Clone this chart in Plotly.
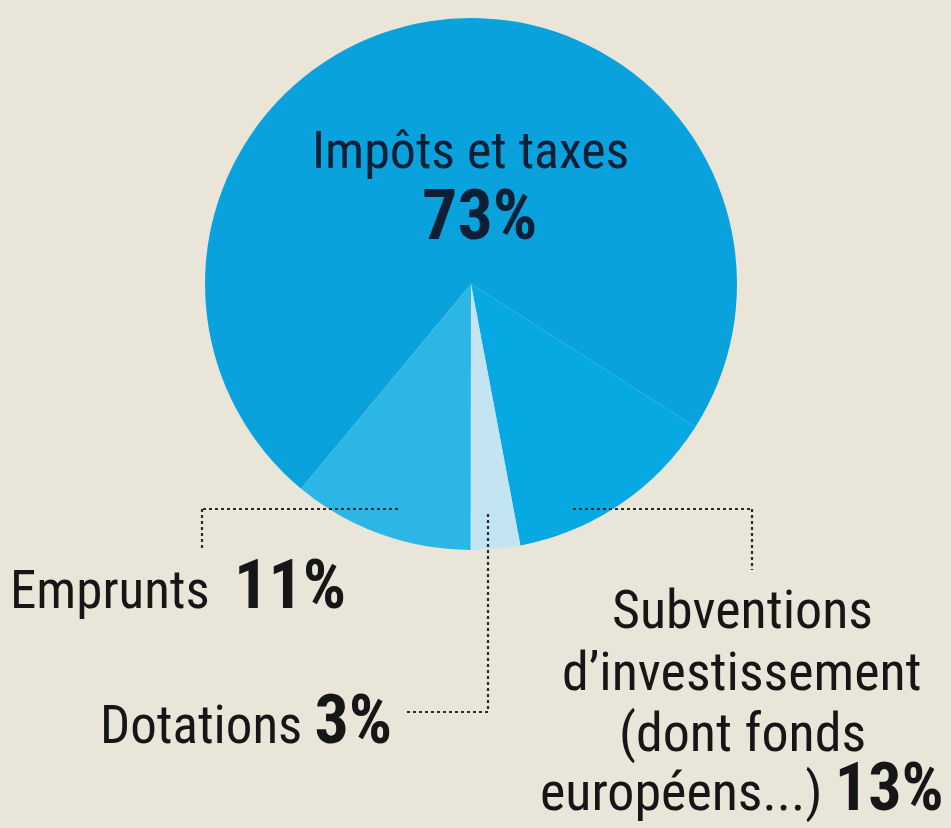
import plotly.graph_objects as go

# Recettes : répartition en pourcentage
categories = ["Impôts et taxes", "Subventions d'investissement", "Dotations", "Emprunts"]
values = [73, 13, 3, 11]
colors = ["#0aa2dc", "#06a9e1", "#c3e4f3", "#2bb6e6"]

W, H = 951, 828
BG = "#e9e5d8"
COND = "Roboto Condensed, Roboto, sans-serif"


def px(x):
    return x / W


def py(y):
    return 1 - y / H


# pie geometry (pixels): centre and radius
cx, cy, r = 471, 284, 266

# first slice (Impôts) ends at ~122.5 deg clockwise from 12 o'clock
rotation = 122.5 - values[0] / sum(values) * 360

fig = go.Figure(
    go.Pie(
        labels=categories,
        values=values,
        sort=False,
        direction="clockwise",
        rotation=rotation,
        marker=dict(colors=colors, line=dict(width=0)),
        textinfo="none",
        hoverinfo="label+percent",
        showlegend=False,
        domain=dict(x=[px(cx - r), px(cx + r)], y=[py(cy + r), py(cy - r)]),
    )
)


def pct(v, size=68):
    return f'<span style="font-weight:bold;font-size:{size}px">{v}%</span>'


annotations = []


def add_text(text, x, y, xanchor, size=53, color="#161616", yanchor="middle"):
    annotations.append(dict(
        text=text, x=px(x), y=py(y), xref="paper", yref="paper",
        xanchor=xanchor, yanchor=yanchor, showarrow=False,
        font=dict(family=COND, size=size, color=color),
    ))


# Impôts et taxes (inside the pie)
add_text(categories[0], 470, 150, "center", size=52, color="#0b1f36")
add_text(pct(values[0], 70), 479, 215, "center", color="#0b1f36")

# Emprunts
add_text(f"Emprunts  {pct(values[3])}", 8, 585, "left")

# Dotations
add_text(f"Dotations {pct(values[2])}", 394, 720, "right")

# Subventions d'investissement (four lines, the last one sits on the bottom edge)
sub_lines = ["Subventions", "d’investissement", "(dont fonds"]
sub_mid = [609, 671, 732]
for line, ym in zip(sub_lines, sub_mid):
    add_text(line, 742, ym, "center", size=54)
add_text(f"européens...) {pct(values[1], 66)}", 742, 828, "center", size=54,
         yanchor="bottom")

# dotted leader lines
leaders = [
    [(398, 509), (202, 509), (202, 548)],   # Emprunts
    [(488, 514), (488, 712), (406, 712)],   # Dotations
    [(573, 509), (752, 509), (752, 570)],   # Subventions
]
shapes = []
for pts in leaders:
    for (x0, y0), (x1, y1) in zip(pts[:-1], pts[1:]):
        shapes.append(dict(
            type="line", xref="paper", yref="paper",
            x0=px(x0), y0=py(y0), x1=px(x1), y1=py(y1),
            line=dict(color="#2a2a2a", width=2.2, dash="dot"),
        ))

fig.update_layout(
    width=W, height=H,
    margin=dict(l=0, r=0, t=0, b=0),
    paper_bgcolor=BG, plot_bgcolor=BG,
    annotations=annotations,
    shapes=shapes,
)

fig.write_html("out.html")
